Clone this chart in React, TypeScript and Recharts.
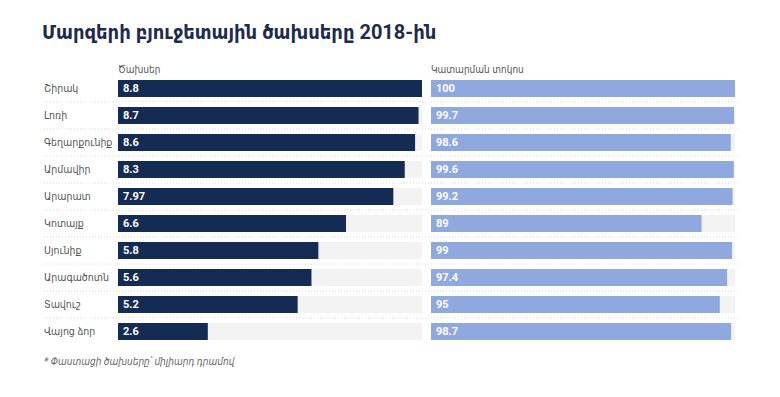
import { BarChart, Bar, XAxis, YAxis, LabelList } from 'recharts';

const regions = ['Շիրակ', 'Լոռի', 'Գեղարքունիք', 'Արմավիր', 'Արարատ', 'Կոտայք', 'Սյունիք', 'Արագածոտն', 'Տավուշ', 'Վայոց ձոր'];
const spending = [8.8, 8.7, 8.6, 8.3, 7.97, 6.6, 5.8, 5.6, 5.2, 2.6];
const execution = [100, 99.7, 98.6, 99.6, 99.2, 89, 99, 97.4, 95, 98.7];

const data = regions.map((region, i) => ({ region, spending: spending[i], execution: execution[i] }));

// Roboto for digits, Armenian falls back to the condensed DejaVu
const FONT = "Roboto, 'DejaVu Sans Condensed', 'DejaVu Sans', sans-serif";
const W = 780;
const H = 397;
const margin = { top: 75, bottom: 52 };

// row label on the left + dotted separator under each row but the last
const RegionTick = (props: any) => {
  const { y, payload, index } = props;
  return (
    <g>
      <text x={44} y={y} dy="0.35em" fill="#555" fontSize={10.5} fontFamily={FONT}>
        {payload.value}
      </text>
      {index < regions.length - 1 && (
        <line x1={44} x2={740} y1={y + 13.5} y2={y + 13.5} stroke="#d8d8d8" strokeDasharray="1 2" />
      )}
    </g>
  );
};

const valueLabel = { fill: '#fff', fontSize: 11, fontWeight: 700, fontFamily: FONT };

export default function App() {
  return (
    <div style={{ position: 'relative', width: W, height: H, margin: -8, background: '#fff', fontFamily: FONT }}>
      <div style={{ position: 'absolute', left: 42, top: 20, fontSize: 20, fontWeight: 700, color: '#1e2b4d' }}>
        Մարզերի բյուջետային ծախսերը 2018-ին
      </div>
      <div style={{ position: 'absolute', left: 118, top: 64, fontSize: 10, color: '#555' }}>Ծախսեր</div>
      <div style={{ position: 'absolute', left: 431, top: 64, fontSize: 10, color: '#555' }}>Կատարման տոկոս</div>

      <div style={{ position: 'absolute', left: 0, top: 0 }}>
        <BarChart width={W} height={H} data={data} layout="vertical" margin={{ ...margin, left: 44, right: W - 422 }}>
          <XAxis type="number" domain={[0, 8.8]} hide />
          <YAxis type="category" dataKey="region" width={74} axisLine={false} tickLine={false} tick={<RegionTick />} interval={0} />
          <Bar dataKey="spending" fill="#142b54" barSize={17} background={{ fill: '#f3f3f3' }} isAnimationActive={false}>
            <LabelList dataKey="spending" position="insideLeft" {...valueLabel} />
          </Bar>
        </BarChart>
      </div>

      <div style={{ position: 'absolute', left: 0, top: 0 }}>
        <BarChart width={W} height={H} data={data} layout="vertical" margin={{ ...margin, left: 431, right: W - 735 }}>
          <XAxis type="number" domain={[0, 100]} hide />
          <YAxis type="category" dataKey="region" hide />
          <Bar dataKey="execution" fill="#8fa8de" barSize={17} background={{ fill: '#f3f3f3' }} isAnimationActive={false}>
            <LabelList dataKey="execution" position="insideLeft" {...valueLabel} />
          </Bar>
        </BarChart>
      </div>

      <div style={{ position: 'absolute', left: 44, top: 356, fontSize: 10, fontStyle: 'italic', color: '#666' }}>
        * Փաստացի ծախսերը՝ միլիարդ դրամով
      </div>
    </div>
  );
}
